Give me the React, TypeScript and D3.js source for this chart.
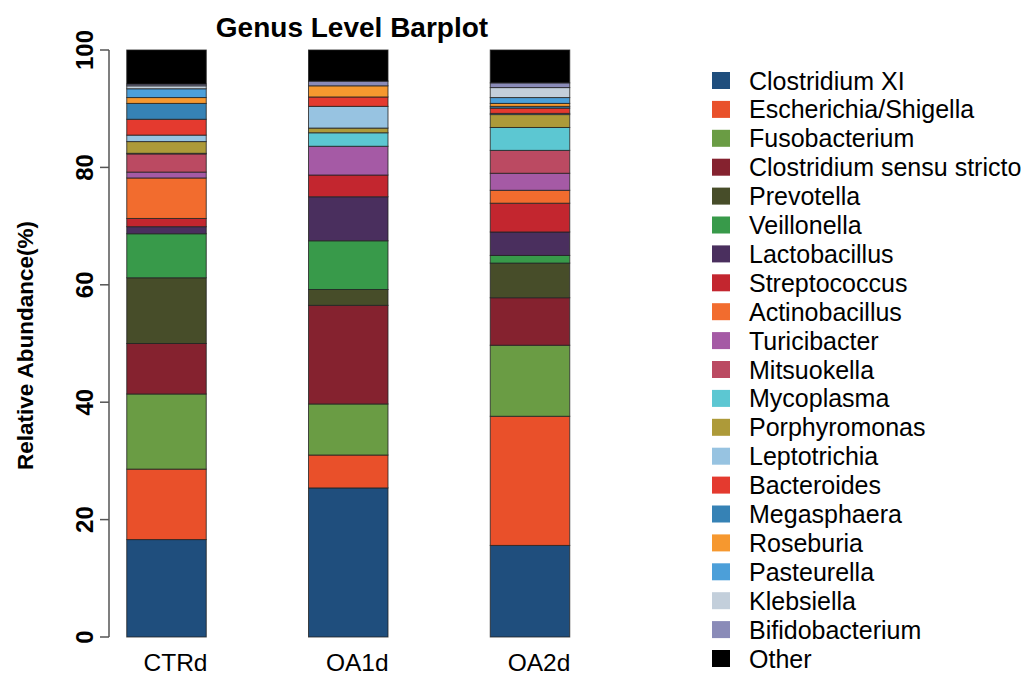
import React from "react";
import * as d3 from "d3";

const samples = ["CTRd", "OA1d", "OA2d"];
const genera = [
  "Clostridium XI", "Escherichia/Shigella", "Fusobacterium", "Clostridium sensu stricto",
  "Prevotella", "Veillonella", "Lactobacillus", "Streptococcus", "Actinobacillus",
  "Turicibacter", "Mitsuokella", "Mycoplasma", "Porphyromonas", "Leptotrichia",
  "Bacteroides", "Megasphaera", "Roseburia", "Pasteurella", "Klebsiella",
  "Bifidobacterium", "Other",
];
const colors = [
  "#1F4E7D", "#E9502A", "#6A9C44", "#85222F", "#474D29", "#389A4A", "#4A2F5E",
  "#C3262F", "#F26C2E", "#A55AA5", "#BB4A62", "#5CC7D2", "#AD9A39", "#97C3E1",
  "#E43A2F", "#3682B5", "#F6982F", "#4C9FD9", "#C3CFDB", "#8A8BB8", "#000000",
];
// relative abundance (%) per genus, in sample order CTRd, OA1d, OA2d
const ctrd = [16.6, 12.0, 12.8, 8.6, 11.2, 7.5, 1.2, 1.4, 6.9, 1.0, 3.1, 0.1, 2.0, 1.1, 2.7, 2.7, 1.0, 1.5, 0.5, 0.3, 5.8];
const oa1d = [25.4, 5.6, 8.7, 16.8, 2.7, 8.3, 7.5, 3.7, 0.0, 4.9, 0.0, 2.3, 0.8, 3.7, 1.6, 0.0, 1.9, 0.0, 0.0, 0.8, 5.3];
const oa2d = [15.6, 22.0, 12.1, 8.1, 5.9, 1.3, 4.0, 4.9, 2.2, 2.9, 3.9, 3.9, 2.2, 0.2, 0.9, 0.3, 0.5, 1.0, 1.7, 0.8, 5.6];
const yTicks = [0, 20, 40, 60, 80, 100];

export default function App() {
  const width = 1027, height = 677;
  const y = d3.scaleLinear().domain([0, 100]).range([637, 50]);
  const x = d3.scalePoint().domain(samples).range([166.5, 530]);
  const barW = 79.5;

  const rows = genera.map((g, i) => {
    const o: any = { genus: g };
    o.CTRd = ctrd[i]; o.OA1d = oa1d[i]; o.OA2d = oa2d[i];
    return o;
  });
  const stack = samples.map((s) => {
    let acc = 0;
    return rows.map((r, i) => {
      const y0 = acc;
      acc += r[s];
      return { s, i, y0, y1: acc };
    });
  });

  const font = "'Liberation Sans', Arial, Helvetica, sans-serif";

  return (
    <svg width={width} height={height} style={{ position: "absolute", left: 0, top: 0, background: "#fff" }} fontFamily={font}>
      <rect x={0} y={0} width={width} height={height} fill="#fff" />
      <text x={352} y={37} textAnchor="middle" fontWeight="bold" fontSize={28}>Genus Level Barplot</text>
      {stack.map((segs) =>
        segs.filter((d) => d.y1 - d.y0 > 0).map((d) => (
          <rect key={d.s + d.i}
            x={(x(d.s) as number) - barW / 2}
            y={y(d.y1)}
            width={barW}
            height={y(d.y0) - y(d.y1)}
            fill={colors[d.i]}
            stroke="#222"
            strokeOpacity={0.8}
            strokeWidth={1}
          />
        ))
      )}
      <line x1={109} x2={109} y1={y(0)} y2={y(100)} stroke="#555" strokeWidth={1.5} />
      {yTicks.map((t) => (
        <g key={t}>
          <line x1={100} x2={109} y1={y(t)} y2={y(t)} stroke="#555" strokeWidth={1.5} />
          <text transform={`translate(93,${y(t)}) rotate(-90)`} textAnchor="middle" fontWeight="bold" fontSize={24}>{t}</text>
        </g>
      ))}
      <text transform={`translate(33,${y(50) + 2}) rotate(-90)`} textAnchor="middle" fontWeight="bold" fontSize={22.5}>Relative Abundance(%)</text>
      {samples.map((s) => (
        <text key={s} x={(x(s) as number) + 9} y={671} textAnchor="middle" fontSize={24.5}>{s}</text>
      ))}
      {genera.map((g, i) => (
        <g key={g} transform={`translate(712,${80.5 + i * 28.9})`}>
          <rect x={0} y={-8.5} width={18} height={17} fill={colors[i]} />
          <text x={37} y={9} fontSize={25}>{g}</text>
        </g>
      ))}
    </svg>
  );
}
